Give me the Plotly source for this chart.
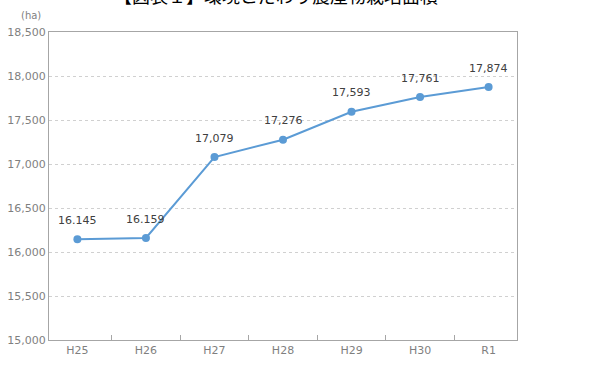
import plotly.graph_objects as go

categories = ["H25", "H26", "H27", "H28", "H29", "H30", "R1"]
area_ha = [16145, 16159, 17079, 17276, 17593, 17761, 17874]
value_labels = ["16.145", "16.159", "17,079", "17,276", "17,593", "17,761", "17,874"]
y_ticks = [15000, 15500, 16000, 16500, 17000, 17500, 18000, 18500]
y_tick_labels = ["15,000", "15,500", "16,000", "16,500", "17,000", "17,500", "18,000", "18,500"]

num_font = "DejaVu Sans, sans-serif"
jp_font = "Noto Sans CJK JP, sans-serif"

fig = go.Figure()
fig.add_trace(go.Scatter(
    x=categories, y=area_ha, mode="lines+markers",
    line=dict(color="#5B9BD5", width=2),
    marker=dict(color="#5B9BD5", size=8),
    cliponaxis=False, showlegend=False, hoverinfo="skip",
))
for c, v, t in zip(categories, area_ha, value_labels):
    fig.add_annotation(
        x=c, y=v, text=t, showarrow=False, yshift=19, yanchor="middle",
        font=dict(size=11, color="#404040", family=num_font),
    )

fig.update_layout(
    width=600, height=365,
    margin=dict(l=49, r=83, t=32, b=25, autoexpand=False),
    paper_bgcolor="white", plot_bgcolor="white",
    font=dict(family=num_font, size=11, color="#7f7f7f"),
)
fig.update_xaxes(
    type="category", tickson="boundaries", ticks="inside", ticklen=5,
    tickcolor="#a6a6a6", showline=True, linecolor="#a6a6a6", linewidth=1,
    mirror=True, showgrid=False, tickfont=dict(size=11, color="#7f7f7f"),
    automargin=False,
)
fig.update_yaxes(
    range=[15000, 18500], tickvals=y_ticks, ticktext=y_tick_labels,
    showline=True, linecolor="#a6a6a6", linewidth=1, mirror=True,
    showgrid=True, gridcolor="#d0d0d0", griddash="dot", gridwidth=1,
    zeroline=False, tickfont=dict(size=11, color="#7f7f7f"), automargin=False,
)
fig.add_annotation(
    text="(ha)", xref="paper", yref="paper", x=0, y=1, xshift=-6, yshift=17,
    xanchor="right", yanchor="middle", showarrow=False,
    font=dict(size=10, color="#7f7f7f", family=num_font),
)
fig.add_annotation(
    text="【図表１】環境こだわり農産物栽培面積", xref="paper", yref="paper",
    x=0.5, y=1, yshift=37, xshift=-7, xanchor="center", yanchor="middle",
    showarrow=False,
    font=dict(size=18, color="#000000", family=jp_font),
)

fig.write_html("out.html", config={"displayModeBar": False},
               post_script="document.body.style.margin='0';")
